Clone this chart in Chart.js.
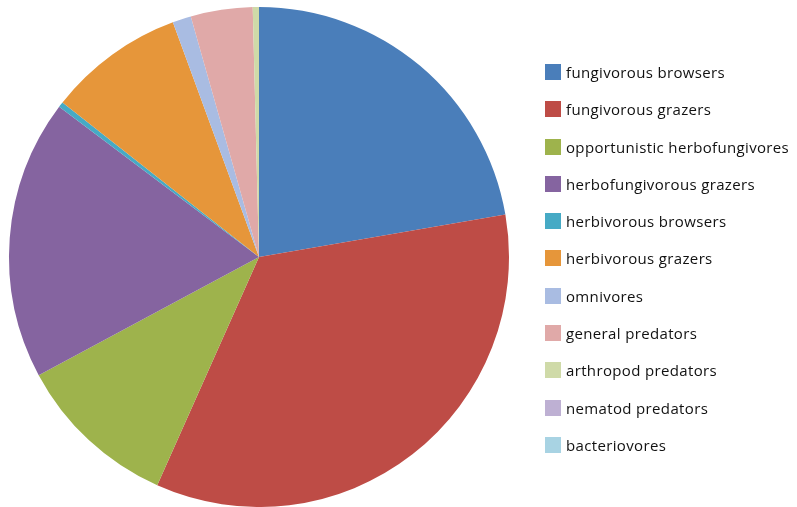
<!DOCTYPE html>
<html>
<head>
<meta charset="utf-8">
<script src="https://cdn.jsdelivr.net/npm/chart.js@4"></script>
<style>
  html, body { margin: 0; padding: 0; background: #fff; }
  #wrap { position: relative; width: 797px; height: 507px; }
  #legend { position: absolute; left: 545px; top: 62px; font-family: "Open Sans", sans-serif; font-size: 15px; letter-spacing: 0.35px; color: #111; }
  .item { height: 37.3px; display: flex; align-items: flex-start; white-space: nowrap; }
  .box { width: 16px; height: 16px; margin-right: 5px; margin-top: 2px; }
</style>
</head>
<body>
<div id="wrap">
  <canvas id="chart" width="797" height="507"></canvas>
  <div id="legend"></div>
</div>
<script>
// Feeding groups (share of total, %)
var groups = ["fungivorous browsers", "fungivorous grazers", "opportunistic herbofungivores",
  "herbofungivorous grazers", "herbivorous browsers", "herbivorous grazers", "omnivores",
  "general predators", "arthropod predators", "nematod predators", "bacteriovores"];
var shares = [22.3, 34.4, 10.5, 18.1, 0.35, 8.8, 1.2, 4.0, 0.4, 0, 0];
var colors = ["#4A7EBA", "#BE4C46", "#9EB34C", "#8564A0", "#46AAC5", "#E6963A",
  "#A9BCE2", "#E0A9A8", "#CFDAA8", "#BEB0D3", "#A8D3E3"];

var ctx = document.getElementById('chart').getContext('2d');

var chart = new Chart(ctx, {
  type: 'pie',
  data: {
    labels: groups,
    datasets: [{
      data: shares,
      backgroundColor: colors,
      borderWidth: 0
    }]
  },
  options: {
    responsive: false,
    animation: false,
    layout: { padding: { left: 9, right: 288, top: 7, bottom: 0 } },
    plugins: {
      legend: { display: false },
      tooltip: { enabled: false }
    }
  }
});

// Legend on the right, built from the same arrays
var legend = document.getElementById('legend');
for (var i = 0; i < groups.length; i++) {
  var row = document.createElement('div');
  row.className = 'item';
  row.innerHTML = '<span class="box" style="background:' + colors[i] + '"></span><span>' + groups[i] + '</span>';
  legend.appendChild(row);
}
</script>
</body>
</html>
